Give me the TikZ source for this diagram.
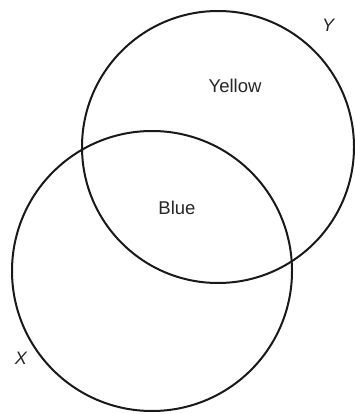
\documentclass[tikz,border=0pt]{standalone}
\usepackage{fontspec}
\setmainfont{Liberation Sans}
\begin{document}
\begin{tikzpicture}[x=1pt,y=-1pt,
  setcircle/.style={draw=black!90,line width=2pt,circle,inner sep=0pt,outer sep=0pt},
  lbl/.style={font=\fontsize{18.5}{20}\selectfont,text=black!85,inner sep=0pt},
  setname/.style={font=\fontsize{18}{20}\selectfont\itshape,text=black!85,inner sep=0pt}]
\useasboundingbox[fill=white] (0,0) rectangle (355,414);
\node[setcircle,minimum size=272pt] (Ycirc) at (218,147) {};
\node[setcircle,minimum size=280pt] (Xcirc) at (152,271) {};
\node[lbl] (yellow) at (235,86) {Yellow};
\node[lbl] (blue) at (177,208) {Blue};
\node[setname] (ylab) at (328,25) {Y};
\node[setname] (xlab) at (21,358) {X};
\end{tikzpicture}
\end{document}
